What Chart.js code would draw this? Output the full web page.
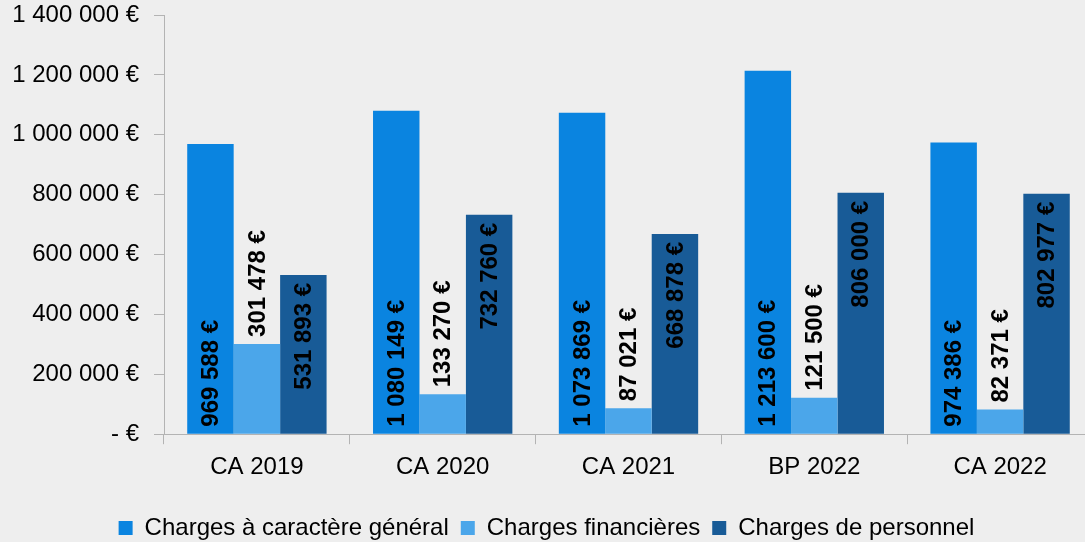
<!DOCTYPE html>
<html>
<head>
<meta charset="utf-8">
<script src="https://cdn.jsdelivr.net/npm/chart.js@4/dist/chart.umd.min.js"></script>
<style>
  html, body { margin: 0; padding: 0; background: #eeeeee; overflow: hidden; }
  #wrap { width: 1100px; height: 542px; }
</style>
</head>
<body>
<div id="wrap"><canvas id="myChart"></canvas></div>
<script>
const categories = ['CA 2019', 'CA 2020', 'CA 2021', 'BP 2022', 'CA 2022'];
const seriesNames = ['Charges à caractère général', 'Charges financières', 'Charges de personnel'];
const chargesGenerales = [969588, 1080149, 1073869, 1213600, 974386];
const chargesFinancieres = [301478, 133270, 87021, 121500, 82371];
const chargesPersonnel = [531893, 732760, 668878, 806000, 802977];
const yTicks = [0, 200000, 400000, 600000, 800000, 1000000, 1200000, 1400000];

const colors = ['#0a84e0', '#4ba6ea', '#185b97'];
// where each series puts its value label
const labelAnchors = ['start', 'endOut', 'endIn'];
const fontFamily = '"Liberation Sans", Arial, sans-serif';

function euro(v) {
    if (v === 0) return '- €';
    return String(v).replace(/\B(?=(\d{3})+(?!\d))/g, ' ') + ' €';
}

// rotated value labels drawn from the bar elements
const barLabels = {
    id: 'barLabels',
    afterDatasetsDraw(chart) {
        const ctx = chart.ctx;
        ctx.save();
        ctx.font = 'bold 24px ' + fontFamily;
        ctx.fillStyle = '#000000';
        ctx.textBaseline = 'middle';
        chart.data.datasets.forEach((ds, i) => {
            const meta = chart.getDatasetMeta(i);
            meta.data.forEach((bar, j) => {
                const anchor = labelAnchors[i];
                let y = bar.y;
                ctx.save();
                if (anchor === 'start') {
                    y = bar.base - 7;
                    ctx.textAlign = 'left';
                } else if (anchor === 'endOut') {
                    y = bar.y - 7;
                    ctx.textAlign = 'left';
                } else {
                    y = bar.y + 8;
                    ctx.textAlign = 'right';
                }
                ctx.translate(bar.x, y);
                ctx.rotate(-Math.PI / 2);
                ctx.fillText(euro(ds.data[j]), 0, 1);
                ctx.restore();
            });
        });
        ctx.restore();
    }
};

const data = {
    labels: categories,
    datasets: [
        { label: seriesNames[0], data: chargesGenerales, backgroundColor: colors[0] },
        { label: seriesNames[1], data: chargesFinancieres, backgroundColor: colors[1] },
        { label: seriesNames[2], data: chargesPersonnel, backgroundColor: colors[2] }
    ]
};

const config = {
    type: 'bar',
    data,
    options: {
        responsive: true,
        maintainAspectRatio: false,
        animation: false,
        datasets: {
            bar: { categoryPercentage: 0.75, barPercentage: 1.0 }
        },
        layout: { padding: { top: 15, right: 7, bottom: -8, left: 0 } },
        plugins: {
            tooltip: { enabled: false },
            legend: {
                position: 'bottom',
                labels: {
                    boxWidth: 14,
                    boxHeight: 14,
                    padding: 12,
                    color: '#000000',
                    font: { family: fontFamily, size: 24 }
                }
            }
        },
        scales: {
            x: {
                grid: { drawOnChartArea: false, color: '#b3b3b3', tickLength: 10, offset: true },
                border: { color: '#b3b3b3' },
                ticks: { color: '#000000', padding: 9, font: { family: fontFamily, size: 24 } },
                afterFit(scale) { scale.height += 13; }
            },
            y: {
                min: 0,
                max: 1400000,
                afterBuildTicks(scale) {
                    scale.ticks = yTicks.map(v => ({ value: v }));
                },
                afterFit(scale) {
                    scale.width = 164;
                    scale.paddingTop = 0;
                    scale.paddingBottom = 0;
                },
                grid: { drawOnChartArea: false, color: '#b3b3b3', tickLength: 10 },
                border: { color: '#b3b3b3' },
                ticks: {
                    color: '#000000',
                    padding: 15,
                    font: { family: fontFamily, size: 24 },
                    callback: (v) => euro(v)
                }
            }
        }
    },
    plugins: [barLabels]
};

const myChart = new Chart(document.getElementById('myChart'), config);
</script>
</body>
</html>
